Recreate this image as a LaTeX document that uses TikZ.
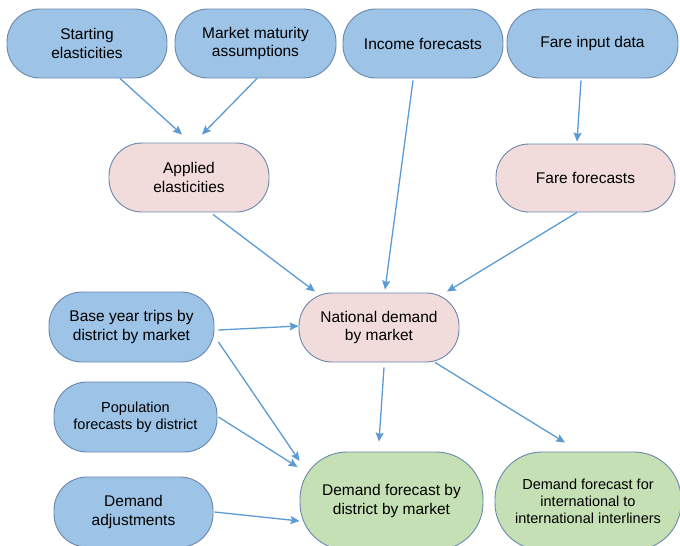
\documentclass[tikz,border=0pt]{standalone}
\usepackage{fontspec}
\setmainfont{Liberation Sans}
\usetikzlibrary{arrows.meta}
\definecolor{inblue}{HTML}{9DC3E6}
\definecolor{midpink}{HTML}{F2DCDB}
\definecolor{outgreen}{HTML}{C5E0B4}
\definecolor{edgegrey}{HTML}{6A88AE}
\definecolor{arrowblue}{HTML}{5B9BD5}
\tikzstyle{input} = [rectangle, rounded corners=33pt,
minimum width=160pt,
minimum height=69pt,
align=center,
line width=0.9pt,
draw=edgegrey,
fill=inblue,
font=\fontsize{15.5}{18.5}\selectfont]
\tikzstyle{derived} = [input, fill=midpink]
\tikzstyle{result} = [input, rounded corners=47pt,
minimum width=183pt,
minimum height=98pt,
fill=outgreen]
\tikzstyle{small} = [font=\fontsize{14.5}{17}\selectfont]
\tikzstyle{arrow} = [line width=1.3pt, draw=arrowblue, -{Stealth[length=9pt,width=8pt,inset=1.5pt]}]

\begin{document}
\begin{tikzpicture}[x=1pt, y=-1pt]
\useasboundingbox (0,0) rectangle (680,546);
			\node (start) [input] at (87,43.5) {Starting\\elasticities};
			\node (maturity) [input, minimum width=161pt] at (255.5,43.5) {Market maturity\\assumptions};
			\node (income) [input] at (423,43.5) {Income forecasts};
			\node (fareinput) [input, minimum width=171pt] at (592.5,43.5) {Fare input data};
			\node (applied) [derived] at (189,177.5) {Applied\\elasticities};
			\node (fare) [derived, minimum width=179pt, minimum height=68pt] at (585.5,178) {Fare forecasts};
			\node (baseyear) [input, minimum width=165pt, minimum height=70pt] at (131.5,327) {Base year trips by\\district by market};
			\node (national) [derived] at (379,327.5) {National demand\\by market};
			\node (population) [input, small, minimum width=163pt, minimum height=70pt] at (135.5,417) {Population\\forecasts by district};
			\node (adjust) [input, minimum width=159pt, minimum height=70pt] at (133.5,512) {Demand\\adjustments};
			\node (district) [result] at (391.5,501) {Demand forecast by\\district by market};
			\node (interline) [result, small, minimum width=186pt] at (588,501) {Demand forecast for\\international to\\international interliners};

			\draw[arrow] ([xshift=33pt]start.south) -- ([xshift=-7pt,yshift=8pt]applied.north);
			\draw[arrow] ([xshift=1.5pt]maturity.south) -- ([xshift=13pt,yshift=8pt]applied.north);
			\draw[arrow] ([xshift=-10pt,yshift=-2pt]income.south) -- ([xshift=6pt,yshift=3pt]national.north);
			\draw[arrow] ([xshift=-11.5pt,yshift=-2pt]fareinput.south) -- ([xshift=-8.5pt,yshift=2pt]fare.north);
			\draw[arrow] ([xshift=24pt,yshift=-2pt]applied.south) -- ([xshift=-64pt,yshift=1pt]national.north);
			\draw[arrow] ([xshift=-8.5pt]fare.south) -- ([xshift=68pt,yshift=1pt]national.north);
			\draw[arrow] ([xshift=4pt,yshift=-3pt]baseyear.east) -- ([yshift=1.5pt]national.west);
			\draw[arrow] ([xshift=4pt,yshift=-15pt]baseyear.east) -- ([yshift=40pt]district.west);
			\draw[arrow] ([xshift=1pt]population.east) -- ([xshift=-2pt,yshift=34pt]district.west);
			\draw[arrow] ([xshift=1pt]adjust.east) -- ([yshift=-20pt]district.west);
			\draw[arrow] ([xshift=5pt,yshift=-5pt]national.south) -- ([xshift=-12.5pt,yshift=10pt]district.north);
			\draw[arrow] ([xshift=56pt]national.south) -- ([xshift=-23pt,yshift=9pt]interline.north);
\end{tikzpicture}
\end{document}
